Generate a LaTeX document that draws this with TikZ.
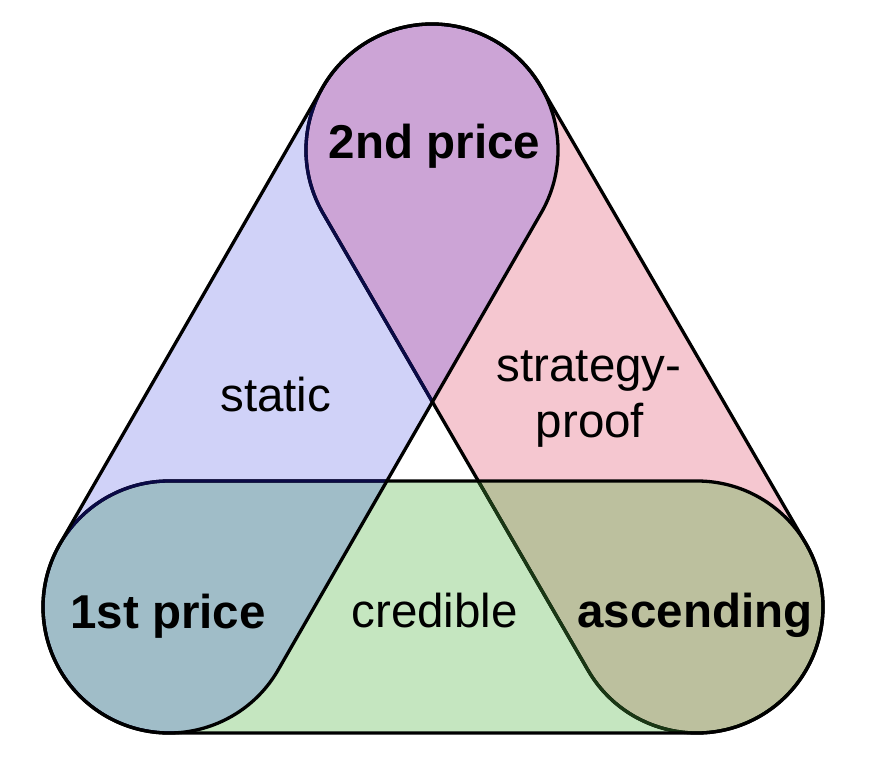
\documentclass[tikz,border=0pt]{standalone}
\usepackage{fontspec}
\setmainfont{Liberation Sans}
\definecolor{bluec}{RGB}{208,210,248}
\definecolor{pinkc}{RGB}{245,199,208}
\definecolor{greenc}{RGB}{197,230,192}
\definecolor{purplec}{RGB}{204,164,214}
\definecolor{bgreenc}{RGB}{160,189,200}
\definecolor{olivec}{RGB}{188,192,158}
\definecolor{dkgreen}{RGB}{25,55,20}
\definecolor{dknavy}{RGB}{10,10,70}
\newcommand\capsulepath[1]{(0,-126) -- (#1,-126) arc[start angle=-90,end angle=90,radius=126pt] -- (0,126) arc[start angle=90,end angle=270,radius=126pt] -- cycle}
\begin{document}
\begin{tikzpicture}[x=1pt,y=1pt,
  capL/.style={shift={(169,151)},rotate=60.08},
  capR/.style={shift={(697,151)},rotate=120.11},
  capB/.style={shift={(169,151)}},
  outline/.style={line width=3.3pt,line join=round},
  bigtxt/.style={font=\fontsize{47.5}{57}\selectfont\bfseries,anchor=base,inner sep=0pt},
  smalltxt/.style={font=\fontsize{47.5}{57}\selectfont,anchor=base,inner sep=0pt,align=center}]
\useasboundingbox (0,0) rectangle (874,758);
% fills
\fill[pinkc,capR] \capsulepath{528.3};
\fill[greenc,capB] \capsulepath{528};
\fill[bluec,capL] \capsulepath{527.3};
\begin{scope}
  \clip[capL] \capsulepath{527.3};
  \fill[purplec,capR] \capsulepath{528.3};
  \fill[bgreenc,capB] \capsulepath{528};
\end{scope}
\begin{scope}
  \clip[capR] \capsulepath{528.3};
  \fill[olivec,capB] \capsulepath{528};
\end{scope}
% outlines
\draw[outline,capR] \capsulepath{528.3};
\begin{scope}
  \clip[capB] \capsulepath{528};
  \draw[outline,draw=dkgreen,capR] \capsulepath{528.3};
\end{scope}
\draw[outline,capB] \capsulepath{528};
\begin{scope}
  \clip[capL] \capsulepath{527.3};
  \draw[outline,draw=dknavy,capR] \capsulepath{528.3};
  \draw[outline,draw=dknavy,capB] \capsulepath{528};
\end{scope}
\draw[outline,capL] \capsulepath{527.3};
% labels
\node[bigtxt] (second) at (434.5,599) {2nd price};
\node[bigtxt] (first) at (168,130) {1st price};
\node[bigtxt] (asc) at (695,131) {ascending};
\node[smalltxt] (cred) at (434.7,131) {credible};
\node[smalltxt] (stat) at (275.7,346) {static};
\node[smalltxt] (sp1) at (589,376) {strategy-};
\node[smalltxt] (sp2) at (590,320) {proof};
\end{tikzpicture}
\end{document}
